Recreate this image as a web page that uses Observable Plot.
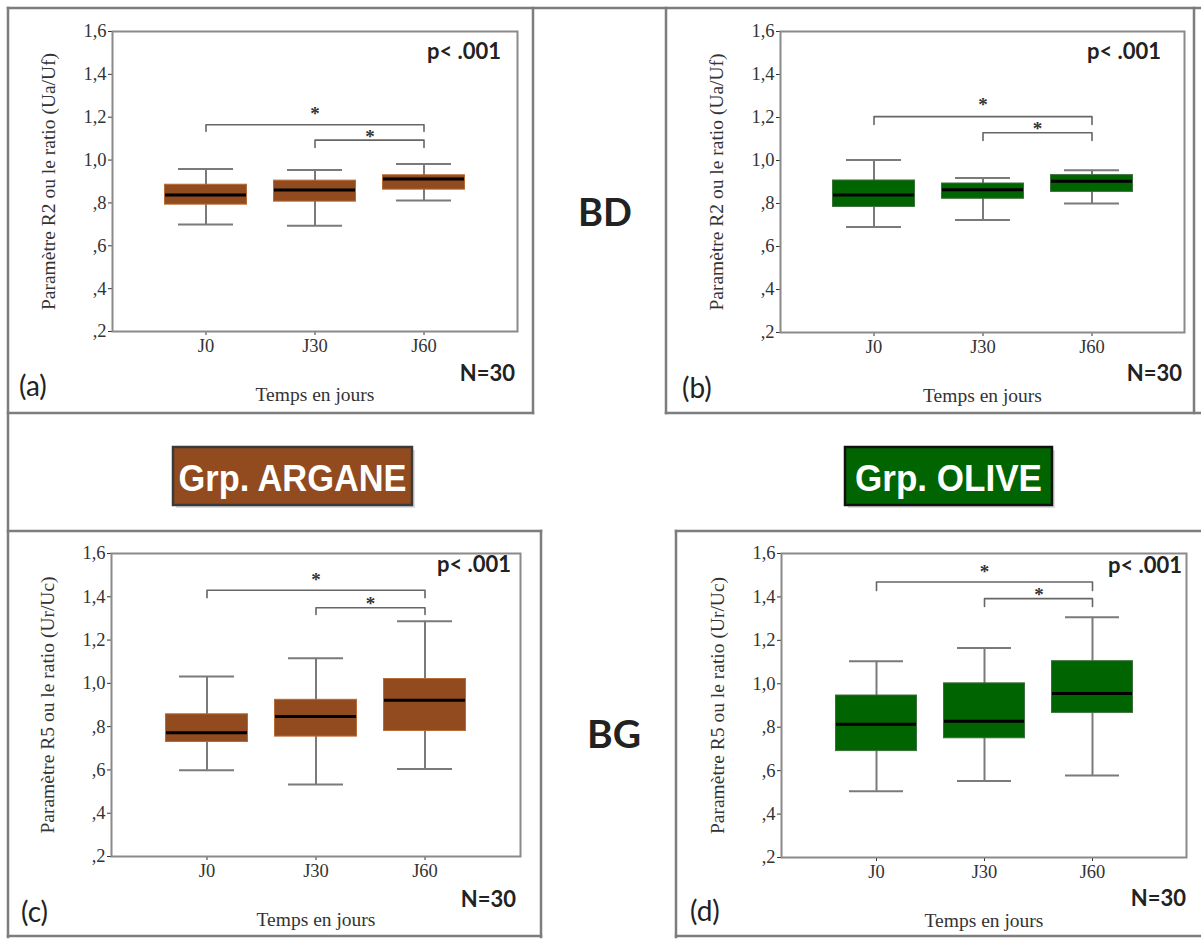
<!DOCTYPE html>
<html><head><meta charset="utf-8">
<script src="https://cdn.jsdelivr.net/npm/d3@7"></script>
<script src="https://cdn.jsdelivr.net/npm/@observablehq/plot@0.6"></script>
<style>
html,body{margin:0;padding:0;background:#fff;}
#root{position:relative;width:1201px;height:940px;overflow:hidden;background:#fff;}
</style></head>
<body><div id="root"></div>
<script>
// ---------- data ----------
const days = ["J0", "J30", "J60"];
const yTicks = [0.2, 0.4, 0.6, 0.8, 1.0, 1.2, 1.4, 1.6];
const yTickLabels = [",2", ",4", ",6", ",8", "1,0", "1,2", "1,4", "1,6"];
const xLabel = "Temps en jours";
const r2Label = "Paramètre R2 ou le ratio (Ua/Uf)";
const r5Label = "Paramètre R5 ou le ratio (Ur/Uc)";
const bracketFrom = ["J0", "J30"];
const bracketTo = ["J60", "J60"];
const starAt = ["J30", "J30"];

// (a) BD – Argane, R2
const aLow  = [0.699, 0.694, 0.811];
const aQ1   = [0.792, 0.806, 0.862];
const aMed  = [0.837, 0.860, 0.912];
const aQ3   = [0.885, 0.904, 0.929];
const aHigh = [0.958, 0.954, 0.982];
const aBracketTop = [1.165, 1.093];
const aBracketEnd = [1.134, 1.059];
const aStar = [1.233, 1.125];

// (b) BD – Olive, R2
const bLow  = [0.691, 0.723, 0.800];
const bQ1   = [0.784, 0.822, 0.854];
const bMed  = [0.839, 0.864, 0.904];
const bQ3   = [0.907, 0.893, 0.932];
const bHigh = [1.002, 0.919, 0.955];
const bBracketTop = [1.204, 1.129];
const bBracketEnd = [1.168, 1.093];
const bStar = [1.277, 1.165];

// (c) BG – Argane, R5
const cLow  = [0.598, 0.533, 0.604];
const cQ1   = [0.729, 0.754, 0.780];
const cMed  = [0.772, 0.847, 0.922];
const cQ3   = [0.857, 0.924, 1.020];
const cHigh = [1.032, 1.116, 1.287];
const cBracketTop = [1.430, 1.349];
const cBracketEnd = [1.396, 1.318];
const cStar = [1.495, 1.387];

// (d) BG – Olive, R5
const dLow  = [0.505, 0.552, 0.578];
const dQ1   = [0.690, 0.749, 0.866];
const dMed  = [0.814, 0.828, 0.955];
const dQ3   = [0.946, 1.002, 1.104];
const dHigh = [1.104, 1.165, 1.306];
const dBracketTop = [1.469, 1.392];
const dBracketEnd = [1.430, 1.356];
const dStar = [1.534, 1.427];

const pValue = "p< .001";
const nText = "N=30";

// ---------- styles ----------
const brownFill = "#914b1e", brownEdge = "#b86a35";
const greenFill = "#006400", greenEdge = "#3b6f3b";
const whisker = "#7a7a7a";

const panels = [
  {tag:"(a)", low:aLow, q1:aQ1, med:aMed, q3:aQ3, high:aHigh, bTop:aBracketTop, bEnd:aBracketEnd, star:aStar,
   fill:brownFill, edge:brownEdge, ylabel:r2Label, left:112, top:31, w:405, h:300, po:0.345},
  {tag:"(b)", low:bLow, q1:bQ1, med:bMed, q3:bQ3, high:bHigh, bTop:bBracketTop, bEnd:bBracketEnd, star:bStar,
   fill:greenFill, edge:greenEdge, ylabel:r2Label, left:780, top:31, w:404, h:301, po:0.35},
  {tag:"(c)", low:cLow, q1:cQ1, med:cMed, q3:cQ3, high:cHigh, bTop:cBracketTop, bEnd:cBracketEnd, star:cStar,
   fill:brownFill, edge:brownEdge, ylabel:r5Label, left:111, top:553, w:409, h:303, po:0.375},
  {tag:"(d)", low:dLow, q1:dQ1, med:dMed, q3:dQ3, high:dHigh, bTop:dBracketTop, bEnd:dBracketEnd, star:dStar,
   fill:greenFill, edge:greenEdge, ylabel:r5Label, left:781, top:553, w:405, h:304, po:0.36}
];

const root = document.getElementById("root");
const ml = 100, mr = 14, mt = 24, mb = 82;

for (const p of panels) {
  const rows = days.map((d, i) => ({day: d, low: p.low[i], q1: p.q1[i], med: p.med[i], q3: p.q3[i], high: p.high[i]}));
  const br = bracketFrom.flatMap((f, i) => [
    {k: i, x: f, y: p.bEnd[i]}, {k: i, x: f, y: p.bTop[i]},
    {k: i, x: bracketTo[i], y: p.bTop[i]}, {k: i, x: bracketTo[i], y: p.bEnd[i]}
  ]);
  const step = p.w / (days.length + 2 * p.po);
  const stars = starAt.map((s, i) => ({x: s, y: p.star[i]}));
  const svg = Plot.plot({
    width: p.w + ml + mr,
    height: p.h + mt + mb,
    marginLeft: ml, marginRight: mr, marginTop: mt, marginBottom: mb,
    style: {fontFamily: "'Liberation Serif', 'DejaVu Serif', serif", fontSize: "18.5px", color: "#333", background: "transparent", overflow: "visible"},
    x: {domain: days, type: "band", paddingInner: 0, paddingOuter: p.po, label: xLabel, labelAnchor: "center", labelOffset: 69, labelArrow: "none", tickSize: 4, tickPadding: 3},
    y: {domain: [0.2, 1.6], ticks: yTicks, tickFormat: d => yTickLabels[yTicks.findIndex(t => Math.abs(t - d) < 1e-9)],
        label: p.ylabel, labelAnchor: "center", labelOffset: 71, labelArrow: "none", tickSize: 4, tickPadding: 2},
    marks: [
      Plot.frame({stroke: "#8a8a8a", strokeWidth: 2}),
      Plot.ruleX(rows, {x: "day", y1: "low", y2: "high", stroke: whisker, strokeWidth: 2}),
      Plot.tickY(rows, {x: "day", y: "low", stroke: whisker, strokeWidth: 2, insetLeft: 27, insetRight: 27}),
      Plot.tickY(rows, {x: "day", y: "high", stroke: whisker, strokeWidth: 2, insetLeft: 27, insetRight: 27}),
      Plot.barY(rows, {x: "day", y1: "q1", y2: "q3", fill: p.fill, stroke: p.edge, strokeWidth: 1, insetLeft: 13.5, insetRight: 13.5}),
      Plot.tickY(rows, {x: "day", y: "med", stroke: "#000", strokeWidth: 3, insetLeft: 14, insetRight: 14}),
      Plot.line(br, {x: "x", y: "y", z: "k", stroke: "#666", strokeWidth: 1.6}),
      Plot.text([stars[0]], {x: "x", y: "y", text: () => "*", fontSize: 19, fontWeight: 700, fill: "#333", dy: 4}),
      Plot.text([stars[1]], {x: "x", y: "y", text: () => "*", fontSize: 19, fontWeight: 700, fill: "#333", dy: 4, dx: step / 2})
    ]
  });
  d3.select(svg).selectAll('[aria-label="y-axis label"] text, [aria-label="x-axis label"] text')
    .attr("font-size", 19.5)
    .each(function() { this.textContent = this.textContent.replace(/[↑↓←→]/g, "").trim(); });
  svg.style.position = "absolute";
  svg.style.left = (p.left - ml) + "px";
  svg.style.top = (p.top - mt) + "px";
  root.appendChild(svg);
}

// ---------- overlay: frames, annotations, group labels ----------
const ov = d3.select(root).append("svg")
  .attr("width", 1201).attr("height", 940)
  .style("position", "absolute").style("left", "0px").style("top", "0px")
  .style("pointer-events", "none");

const segs = [
  [8, 8, 1201, 8], [8, 8, 8, 937],
  [533, 8, 533, 413], [8, 413, 533, 413],
  [666, 8, 666, 413], [666, 413, 1201, 413], [1194, 8, 1194, 413],
  [8, 531, 541, 531], [541, 531, 541, 937], [8, 936, 541, 936],
  [676, 531, 1201, 531], [676, 531, 676, 937], [676, 936, 1201, 936]
];
ov.selectAll("line.f").data(segs).join("line")
  .attr("x1", d => d[0]).attr("y1", d => d[1]).attr("x2", d => d[2]).attr("y2", d => d[3])
  .attr("stroke", "#7d7d7d").attr("stroke-width", 2.5).attr("stroke-linecap", "square");

const sans = "Lato, 'Open Sans', 'DejaVu Sans', sans-serif";
const ann = [
  {t: pValue, x: 501, y: 59, a: "end", s: 22, w: 700},
  {t: pValue, x: 1161, y: 59, a: "end", s: 22, w: 700},
  {t: pValue, x: 511, y: 572, a: "end", s: 22, w: 700},
  {t: pValue, x: 1182, y: 573, a: "end", s: 22, w: 700},
  {t: nText, x: 515, y: 381, a: "end", s: 22, w: 700},
  {t: nText, x: 1182, y: 381, a: "end", s: 22, w: 700},
  {t: nText, x: 516, y: 907, a: "end", s: 22, w: 700},
  {t: nText, x: 1186, y: 906, a: "end", s: 22, w: 700},
  {t: panels[0].tag, x: 19, y: 396, a: "start", s: 28, w: 400},
  {t: panels[1].tag, x: 682, y: 398, a: "start", s: 28, w: 400},
  {t: panels[2].tag, x: 21, y: 922, a: "start", s: 28, w: 400},
  {t: panels[3].tag, x: 690, y: 921, a: "start", s: 28, w: 400},
  {t: "BD", x: 605, y: 226, a: "middle", s: 38, w: 700},
  {t: "BG", x: 614, y: 748, a: "middle", s: 39, w: 700}
];
ov.selectAll("text.ann").data(ann).join("text")
  .attr("x", d => d.x).attr("y", d => d.y).attr("text-anchor", d => d.a)
  .attr("font-family", sans).attr("font-size", d => d.s).attr("font-weight", d => d.w)
  .attr("fill", "#222").text(d => d.t);

const groups = [
  {t: "Grp. ARGANE", x: 173, y: 447, w: 239, h: 58, fill: brownFill, stroke: "#3a3a3a", tl: 228},
  {t: "Grp. OLIVE", x: 845, y: 447, w: 207, h: 58, fill: greenFill, stroke: "#111", tl: 187}
];
const g = ov.selectAll("g.grp").data(groups).join("g");
g.append("rect").attr("x", d => d.x + 3).attr("y", d => d.y + 3).attr("width", d => d.w).attr("height", d => d.h)
  .attr("fill", "#c8c8c8").attr("opacity", 0.6);
g.append("rect").attr("x", d => d.x).attr("y", d => d.y).attr("width", d => d.w).attr("height", d => d.h)
  .attr("fill", d => d.fill).attr("stroke", d => d.stroke).attr("stroke-width", 2.5);
g.append("text").attr("x", d => d.x + d.w / 2).attr("y", 491).attr("text-anchor", "middle")
  .attr("font-family", "'Liberation Sans Narrow', 'Liberation Sans', Arial, sans-serif")
  .attr("font-weight", 700).attr("font-size", 36).attr("fill", "#fff")
  .attr("textLength", d => d.tl).attr("lengthAdjust", "spacingAndGlyphs")
  .text(d => d.t);
</script>
</body></html>
